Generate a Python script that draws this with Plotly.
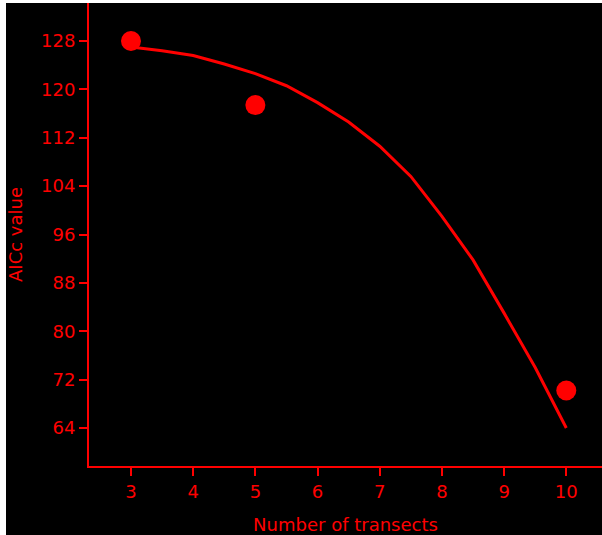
import plotly.graph_objects as go

# Observed AICc values
obs_x = [3, 5, 10]
obs_y = [128.0, 117.4, 70.2]

# Fitted curve
curve_x = [3, 3.5, 4, 4.5, 5, 5.5, 6, 6.5, 7, 7.5, 8, 8.5, 9, 9.5, 10]
curve_y = [127.0, 126.4, 125.6, 124.2, 122.6, 120.6, 117.8, 114.6, 110.6,
           105.6, 99.0, 91.8, 83.0, 74.0, 64.0]

x_ticks = [3, 4, 5, 6, 7, 8, 9, 10]
y_ticks = [64, 72, 80, 88, 96, 104, 112, 120, 128]

RED = "#ff0000"
FONT = "DejaVu Sans, sans-serif"

fig = go.Figure()
fig.add_trace(go.Scatter(x=curve_x, y=curve_y, mode="lines",
                         line=dict(color=RED, width=3), hoverinfo="skip"))
fig.add_trace(go.Scatter(x=obs_x, y=obs_y, mode="markers",
                         marker=dict(color=RED, size=20, line=dict(width=0))))

axis_common = dict(showgrid=False, zeroline=False, showline=True,
                   linecolor=RED, linewidth=2, ticks="outside", ticklen=8,
                   tickwidth=2, tickcolor=RED,
                   tickfont=dict(family=FONT, size=18, color=RED))

fig.update_layout(
    width=602, height=535,
    margin=dict(l=89, r=0, t=3, b=69),
    paper_bgcolor="black", plot_bgcolor="black",
    showlegend=False,
    font=dict(family=FONT, color=RED),
    xaxis=dict(range=[2.325, 10.574], tickvals=x_ticks,
               title=dict(text="Number of transects", standoff=18,
                          font=dict(family=FONT, size=18, color=RED)),
               **axis_common),
    yaxis=dict(range=[57.72, 134.28], tickvals=y_ticks,
               title=dict(text="AICc value", standoff=14,
                          font=dict(family=FONT, size=18, color=RED)),
               **axis_common),
    shapes=[
        dict(type="rect", xref="paper", yref="paper", x0=-0.5, x1=(6 - 89) / 513,
             y0=-0.5, y1=1.5, fillcolor="white", line=dict(width=0), layer="below"),
        dict(type="rect", xref="paper", yref="paper", x0=-0.5, x1=1.5,
             y0=1.0, y1=1.5, fillcolor="white", line=dict(width=0), layer="below"),
    ],
)

fig.write_html("out.html")
